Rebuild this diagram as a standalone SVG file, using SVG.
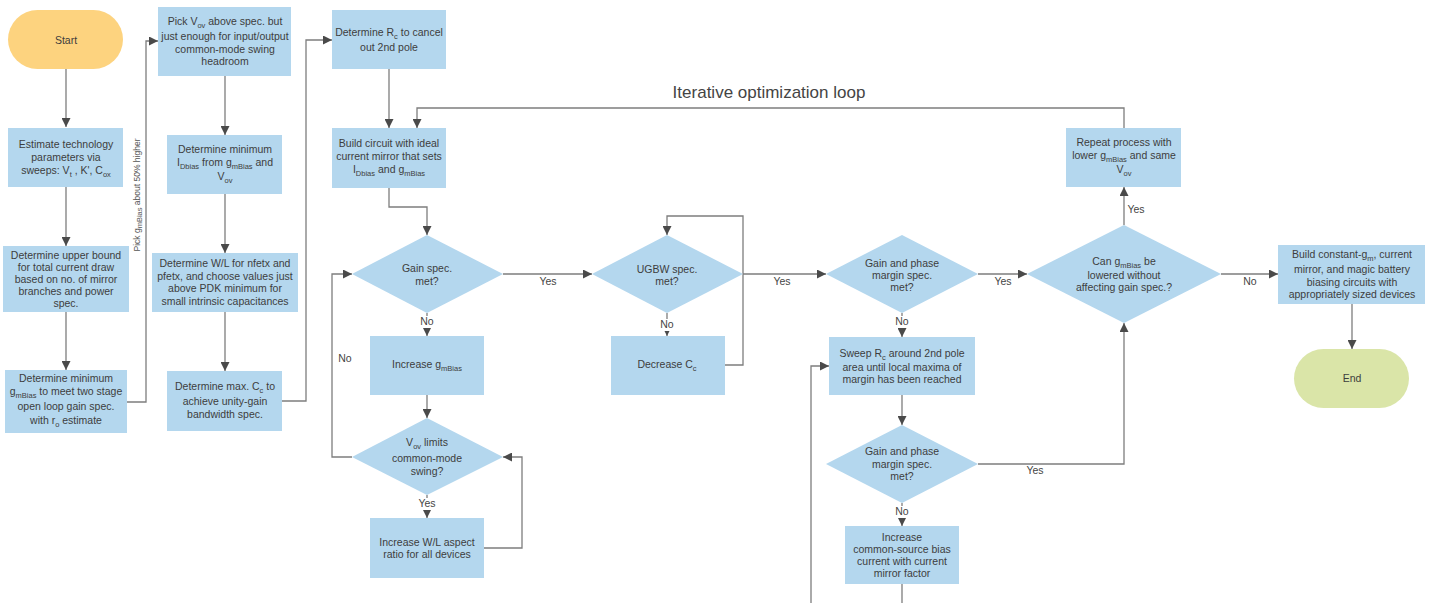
<svg xmlns="http://www.w3.org/2000/svg" width="1431" height="603" viewBox="0 0 1431 603">
<defs>
<style>
text{font-family:"Liberation Sans",Arial,sans-serif;font-size:10.5px;fill:#3d3d3d;text-anchor:middle}
.box{fill:#B4D7EE}
.dia{fill:#B4D7EE}
.start{fill:#FDD37F}
.end{fill:#DAE5A8}
.ln{fill:none;stroke:#7d7d7d;stroke-width:1.3}
.s{font-size:7.5px}
.lbl{font-size:10.5px;fill:#454545}
.bg{fill:#ffffff}
.title{font-size:17px;fill:#444}
.rot{font-size:8.5px;fill:#555}
</style>
<marker id="ah" viewBox="0 0 10 10" refX="10" refY="5" markerWidth="9" markerHeight="9" markerUnits="userSpaceOnUse" orient="auto"><path d="M0,0 L10,5 L0,10 z" fill="#4a4a4a"/></marker>
</defs>
<rect width="1431" height="603" fill="#ffffff"/>

<g id="connectors">
<path class="ln" d="M66,69 V127" marker-end="url(#ah)"/>
<path class="ln" d="M66,187 V246" marker-end="url(#ah)"/>
<path class="ln" d="M66,312 V370" marker-end="url(#ah)"/>
<path class="ln" d="M127,402 H146 V41 H158" marker-end="url(#ah)"/>
<path class="ln" d="M225,76 V135" marker-end="url(#ah)"/>
<path class="ln" d="M225,194 V253" marker-end="url(#ah)"/>
<path class="ln" d="M225,312 V371" marker-end="url(#ah)"/>
<path class="ln" d="M282,401 H306 V40 H332" marker-end="url(#ah)"/>
<path class="ln" d="M389,69 V128" marker-end="url(#ah)"/>
<path class="ln" d="M1124,128 V108 H417 V128" marker-end="url(#ah)"/>
<path class="ln" d="M389,188 V207 H427 V235" marker-end="url(#ah)"/>
<path class="ln" d="M503,274 H592" marker-end="url(#ah)"/>
<path class="ln" d="M427,313 V336" marker-end="url(#ah)"/>
<path class="ln" d="M427,395 V418" marker-end="url(#ah)"/>
<path class="ln" d="M427,495 V518" marker-end="url(#ah)"/>
<path class="ln" d="M484,548 H522 V457 H503" marker-end="url(#ah)"/>
<path class="ln" d="M352,457 H332 V274 H352" marker-end="url(#ah)"/>
<path class="ln" d="M667,313 V336" marker-end="url(#ah)"/>
<path class="ln" d="M725,365 H743 V216 H667 V235" marker-end="url(#ah)"/>
<path class="ln" d="M743,274 H826" marker-end="url(#ah)"/>
<path class="ln" d="M978,274 H1027" marker-end="url(#ah)"/>
<path class="ln" d="M902,313 V337" marker-end="url(#ah)"/>
<path class="ln" d="M902,395 V425" marker-end="url(#ah)"/>
<path class="ln" d="M978,464 H1124 V323" marker-end="url(#ah)"/>
<path class="ln" d="M902,503 V526" marker-end="url(#ah)"/>
<path class="ln" d="M902,584 V603"/>
<path class="ln" d="M811,603 V366 H829" marker-end="url(#ah)"/>
<path class="ln" d="M1124,225 V187" marker-end="url(#ah)"/>
<path class="ln" d="M1221,274 H1278" marker-end="url(#ah)"/>
<path class="ln" d="M1352,304 V349" marker-end="url(#ah)"/>

<rect class="bg" x="419" y="316" width="16" height="12"/>
<text class="lbl" x="427" y="325">No</text>
<rect class="bg" x="417" y="498" width="20" height="12"/>
<text class="lbl" x="427" y="507">Yes</text>
<rect class="bg" x="659" y="319" width="16" height="12"/>
<text class="lbl" x="667" y="328">No</text>
<rect class="bg" x="894" y="316" width="16" height="12"/>
<text class="lbl" x="902" y="325">No</text>
<rect class="bg" x="894" y="506" width="16" height="12"/>
<text class="lbl" x="902" y="515">No</text>
<text class="lbl" x="548" y="285">Yes</text>
<text class="lbl" x="345" y="362">No</text>
<text class="lbl" x="782" y="285">Yes</text>
<text class="lbl" x="1003" y="285">Yes</text>
<text class="lbl" x="1035" y="474">Yes</text>
<text class="lbl" x="1136" y="213">Yes</text>
<text class="lbl" x="1250" y="285">No</text>
<text class="rot" transform="translate(140,195) rotate(-90)">Pick g<tspan class="s" dy="2">mBias</tspan><tspan dy="-2"> about 50% higher</tspan></text>
<text class="title" x="769" y="98">Iterative optimization loop</text>
</g>

<g id="start">
<rect class="start" x="8" y="10" width="115" height="59" rx="29.5"/>
<text x="66" y="44">Start</text>
</g>

<g id="estimate">
<rect class="box" x="8" y="128" width="115" height="59"/>
<text x="66" y="148">Estimate technology</text>
<text x="66" y="161">parameters via</text>
<text x="66" y="174">sweeps: V<tspan class="s" dy="3">t</tspan><tspan dy="-3"> , K', C</tspan><tspan class="s" dy="3">ox</tspan></text>
</g>

<g id="upper-bound">
<rect class="box" x="3" y="246" width="126" height="66"/>
<text x="66" y="259">Determine upper bound</text>
<text x="66" y="271">for total current draw</text>
<text x="66" y="283">based on no. of mirror</text>
<text x="66" y="295">branches and power</text>
<text x="66" y="307">spec.</text>
</g>

<g id="min-gm">
<rect class="box" x="5" y="370" width="122" height="63"/>
<text x="66" y="382">Determine minimum</text>
<text x="66" y="395">g<tspan class="s" dy="3">mBias</tspan><tspan dy="-3"> to meet two stage</tspan></text>
<text x="66" y="410">open loop gain spec.</text>
<text x="66" y="424">with r<tspan class="s" dy="3">o</tspan><tspan dy="-3"> estimate</tspan></text>
</g>

<g id="pick-vov">
<rect class="box" x="158" y="7" width="133" height="69"/>
<text x="225" y="25">Pick V<tspan class="s" dy="3">ov</tspan><tspan dy="-3"> above spec. but</tspan></text>
<text x="225" y="40">just enough for input/output</text>
<text x="225" y="53">common-mode swing</text>
<text x="225" y="65">headroom</text>
</g>

<g id="min-idbias">
<rect class="box" x="167" y="135" width="115" height="59"/>
<text x="225" y="153">Determine minimum</text>
<text x="225" y="166">I<tspan class="s" dy="3">Dbias</tspan><tspan dy="-3"> from g</tspan><tspan class="s" dy="3">mBias</tspan><tspan dy="-3"> and</tspan></text>
<text x="225" y="180">V<tspan class="s" dy="3">ov</tspan></text>
</g>

<g id="wl">
<rect class="box" x="152" y="253" width="146" height="59"/>
<text x="225" y="267">Determine W/L for nfetx and</text>
<text x="225" y="280">pfetx, and choose values just</text>
<text x="225" y="292">above PDK minimum for</text>
<text x="225" y="305">small intrinsic capacitances</text>
</g>

<g id="max-cc">
<rect class="box" x="167" y="371" width="115" height="60"/>
<text x="225" y="390">Determine max. C<tspan class="s" dy="3">c</tspan><tspan dy="-3"> to</tspan></text>
<text x="225" y="405">achieve unity-gain</text>
<text x="225" y="418">bandwidth spec.</text>
</g>

<g id="rc">
<rect class="box" x="332" y="10" width="114" height="59"/>
<text x="389" y="36">Determine R<tspan class="s" dy="3">c</tspan><tspan dy="-3"> to cancel</tspan></text>
<text x="389" y="51">out 2nd pole</text>
</g>

<g id="build">
<rect class="box" x="332" y="128" width="114" height="60"/>
<text x="389" y="147">Build circuit with ideal</text>
<text x="389" y="160">current mirror that sets</text>
<text x="389" y="173">I<tspan class="s" dy="3">Dbias</tspan><tspan dy="-3"> and g</tspan><tspan class="s" dy="3">mBias</tspan></text>
</g>

<g id="gain-spec">
<polygon class="dia" points="352,274 427,235 503,274 427,313"/>
<text x="427" y="272">Gain spec.</text>
<text x="427" y="285">met?</text>
</g>

<g id="increase-gm">
<rect class="box" x="370" y="336" width="114" height="59"/>
<text x="427" y="368">Increase g<tspan class="s" dy="3">mBias</tspan></text>
</g>

<g id="vov-limits">
<polygon class="dia" points="352,457 427,418 503,457 427,495"/>
<text x="427" y="446">V<tspan class="s" dy="3">ov</tspan><tspan dy="-3"> limits</tspan></text>
<text x="427" y="462">common-mode</text>
<text x="427" y="475">swing?</text>
</g>

<g id="increase-wl">
<rect class="box" x="370" y="518" width="114" height="60"/>
<text x="427" y="546">Increase W/L aspect</text>
<text x="427" y="558">ratio for all devices</text>
</g>

<g id="ugbw">
<polygon class="dia" points="592,274 667,235 743,274 667,313"/>
<text x="667" y="273">UGBW spec.</text>
<text x="667" y="285">met?</text>
</g>

<g id="decrease-cc">
<rect class="box" x="611" y="336" width="114" height="59"/>
<text x="667" y="368">Decrease C<tspan class="s" dy="3">c</tspan></text>
</g>

<g id="gpm1">
<polygon class="dia" points="826,274 902,235 978,274 902,313"/>
<text x="902" y="267">Gain and phase</text>
<text x="902" y="279">margin spec.</text>
<text x="902" y="291">met?</text>
</g>

<g id="sweep">
<rect class="box" x="829" y="337" width="146" height="58"/>
<text x="902" y="357">Sweep R<tspan class="s" dy="3">c</tspan><tspan dy="-3"> around 2nd pole</tspan></text>
<text x="902" y="371">area until local maxima of</text>
<text x="902" y="383">margin has been reached</text>
</g>

<g id="gpm2">
<polygon class="dia" points="826,464 902,425 978,464 902,503"/>
<text x="902" y="455">Gain and phase</text>
<text x="902" y="468">margin spec.</text>
<text x="902" y="480">met?</text>
</g>

<g id="increase-cs">
<rect class="box" x="845" y="526" width="114" height="58"/>
<text x="902" y="541">Increase</text>
<text x="902" y="553">common-source bias</text>
<text x="902" y="565">current with current</text>
<text x="902" y="577">mirror factor</text>
</g>

<g id="can-lower">
<polygon class="dia" points="1027,274 1124,225 1221,274 1124,323"/>
<text x="1124" y="265">Can g<tspan class="s" dy="3">mBias</tspan><tspan dy="-3"> be</tspan></text>
<text x="1124" y="279">lowered without</text>
<text x="1124" y="291">affecting gain spec.?</text>
</g>

<g id="repeat">
<rect class="box" x="1066" y="128" width="115" height="59"/>
<text x="1124" y="146">Repeat process with</text>
<text x="1124" y="159">lower g<tspan class="s" dy="3">mBias</tspan><tspan dy="-3"> and same</tspan></text>
<text x="1124" y="173">V<tspan class="s" dy="3">ov</tspan></text>
</g>

<g id="build-constant">
<rect class="box" x="1278" y="245" width="147" height="59"/>
<text x="1352" y="258">Build constant-g<tspan class="s" dy="3">m</tspan><tspan dy="-3">, current</tspan></text>
<text x="1352" y="273">mirror, and magic battery</text>
<text x="1352" y="286">biasing circuits with</text>
<text x="1352" y="298">appropriately sized devices</text>
</g>

<g id="end">
<rect class="end" x="1294" y="349" width="115" height="59" rx="29.5"/>
<text x="1352" y="382">End</text>
</g>
</svg>
